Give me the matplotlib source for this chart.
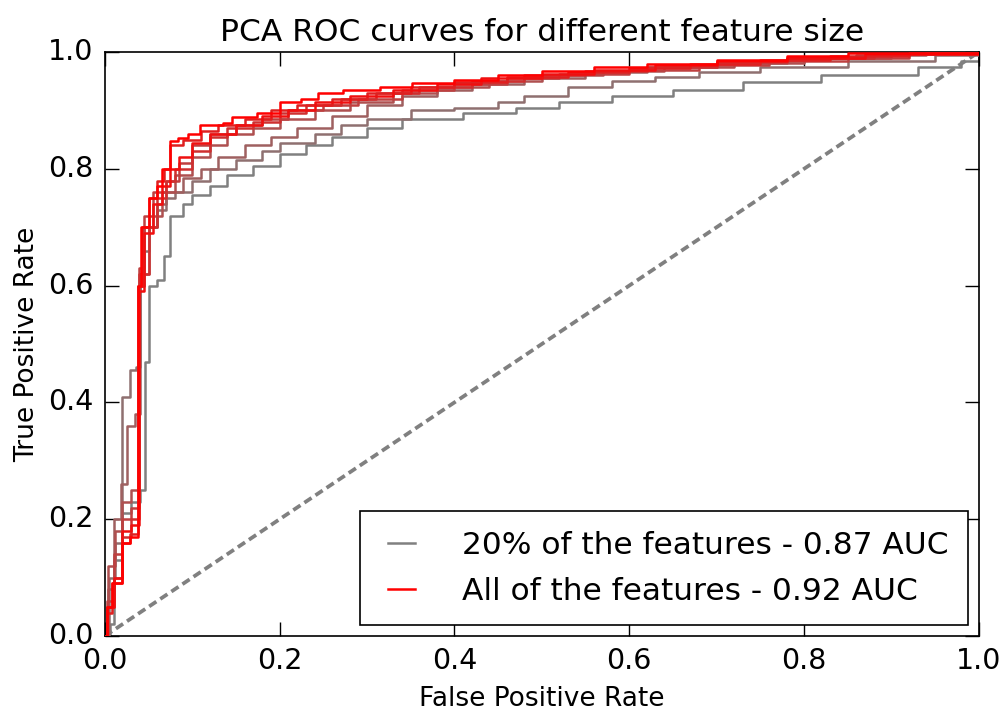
import matplotlib
matplotlib.use("Agg")
import matplotlib.pyplot as plt
import numpy as np

# ROC corner points (fpr, tpr) per PCA feature fraction, from fewest to all features
roc_20 = [(0, 0), (0.006, 0.02), (0.011, 0.13), (0.02, 0.21), (0.03, 0.23), (0.04, 0.25),
          (0.046, 0.47), (0.05, 0.60), (0.06, 0.61), (0.068, 0.65), (0.074, 0.72), (0.09, 0.74),
          (0.1, 0.755), (0.12, 0.77), (0.14, 0.79), (0.17, 0.805), (0.2, 0.825), (0.23, 0.84),
          (0.26, 0.855), (0.3, 0.87), (0.34, 0.885), (0.41, 0.896), (0.47, 0.905), (0.52, 0.915),
          (0.58, 0.925), (0.65, 0.935), (0.73, 0.948), (0.82, 0.96), (0.93, 0.975), (0.98, 0.985),
          (1.0, 1.0)]
roc_30 = [(0, 0), (0.005, 0.1), (0.012, 0.16), (0.02, 0.41), (0.029, 0.455), (0.036, 0.46),
          (0.04, 0.6), (0.045, 0.66), (0.05, 0.7), (0.06, 0.73), (0.07, 0.75), (0.08, 0.76),
          (0.1, 0.78), (0.12, 0.8), (0.15, 0.815), (0.18, 0.83), (0.2, 0.845), (0.24, 0.86),
          (0.27, 0.875), (0.3, 0.885), (0.35, 0.9), (0.4, 0.905), (0.45, 0.915), (0.48, 0.925),
          (0.53, 0.94), (0.58, 0.95), (0.63, 0.957), (0.68, 0.965), (0.75, 0.975), (0.85, 0.985),
          (0.95, 0.995), (1.0, 1.0)]
roc_40 = [(0, 0), (0.004, 0.08), (0.01, 0.2), (0.018, 0.26), (0.025, 0.36), (0.035, 0.38),
          (0.04, 0.62), (0.05, 0.7), (0.06, 0.74), (0.07, 0.76), (0.09, 0.785), (0.11, 0.8),
          (0.13, 0.82), (0.16, 0.84), (0.19, 0.855), (0.22, 0.87), (0.26, 0.89), (0.3, 0.91),
          (0.34, 0.925), (0.38, 0.935), (0.42, 0.945), (0.48, 0.955), (0.55, 0.965), (0.62, 0.975),
          (0.7, 0.982), (0.78, 0.99), (0.86, 0.995), (0.94, 0.998), (1.0, 1.0)]
roc_50 = [(0, 0), (0.004, 0.12), (0.012, 0.18), (0.02, 0.23), (0.03, 0.25), (0.038, 0.6),
          (0.045, 0.7), (0.055, 0.72), (0.065, 0.76), (0.08, 0.79), (0.1, 0.82), (0.12, 0.84),
          (0.14, 0.86), (0.17, 0.87), (0.2, 0.885), (0.24, 0.9), (0.28, 0.915), (0.33, 0.93),
          (0.38, 0.94), (0.44, 0.95), (0.5, 0.96), (0.57, 0.968), (0.64, 0.975), (0.72, 0.982),
          (0.8, 0.99), (0.9, 0.996), (1.0, 1.0)]
roc_60 = [(0, 0), (0.003, 0.06), (0.01, 0.14), (0.02, 0.2), (0.03, 0.22), (0.039, 0.63),
          (0.045, 0.72), (0.055, 0.76), (0.07, 0.78), (0.085, 0.81), (0.1, 0.84), (0.12, 0.86),
          (0.15, 0.875), (0.18, 0.885), (0.21, 0.9), (0.25, 0.91), (0.29, 0.92), (0.34, 0.935),
          (0.4, 0.945), (0.46, 0.955), (0.52, 0.962), (0.6, 0.97), (0.68, 0.978), (0.76, 0.985),
          (0.85, 0.99), (0.92, 0.997), (1.0, 1.0)]
roc_70 = [(0, 0), (0.003, 0.05), (0.01, 0.1), (0.02, 0.17), (0.03, 0.2), (0.039, 0.62),
          (0.05, 0.7), (0.06, 0.75), (0.07, 0.78), (0.08, 0.8), (0.1, 0.83), (0.12, 0.855),
          (0.14, 0.87), (0.17, 0.88), (0.2, 0.895), (0.23, 0.91), (0.27, 0.92), (0.31, 0.93),
          (0.36, 0.94), (0.42, 0.95), (0.48, 0.96), (0.55, 0.967), (0.62, 0.975), (0.7, 0.983),
          (0.78, 0.99), (0.88, 0.996), (1.0, 1.0)]
roc_80 = [(0, 0), (0.002, 0.04), (0.008, 0.09), (0.02, 0.16), (0.029, 0.175), (0.038, 0.6),
          (0.042, 0.7), (0.05, 0.75), (0.06, 0.78), (0.068, 0.8), (0.075, 0.84), (0.09, 0.85),
          (0.11, 0.865), (0.13, 0.875), (0.16, 0.885), (0.19, 0.9), (0.22, 0.91), (0.26, 0.92),
          (0.3, 0.93), (0.35, 0.94), (0.4, 0.948), (0.46, 0.958), (0.53, 0.965), (0.6, 0.972),
          (0.67, 0.98), (0.75, 0.987), (0.83, 0.993), (0.92, 0.998), (1.0, 1.0)]
roc_90 = [(0, 0), (0.003, 0.05), (0.01, 0.1), (0.02, 0.18), (0.03, 0.19), (0.039, 0.59),
          (0.045, 0.69), (0.055, 0.74), (0.065, 0.77), (0.075, 0.8), (0.085, 0.82), (0.1, 0.845),
          (0.12, 0.86), (0.15, 0.875), (0.18, 0.89), (0.21, 0.9), (0.24, 0.915), (0.28, 0.925),
          (0.33, 0.935), (0.38, 0.945), (0.43, 0.955), (0.5, 0.962), (0.56, 0.97), (0.63, 0.977),
          (0.7, 0.984), (0.78, 0.99), (0.87, 0.996), (1.0, 1.0)]
roc_100 = [(0, 0), (0.002, 0.05), (0.008, 0.09), (0.02, 0.16), (0.029, 0.17), (0.038, 0.6),
           (0.041, 0.7), (0.05, 0.75), (0.06, 0.77), (0.065, 0.8), (0.074, 0.848), (0.084, 0.852),
           (0.095, 0.86), (0.109, 0.875), (0.135, 0.878), (0.146, 0.889), (0.174, 0.895),
           (0.2, 0.914), (0.225, 0.92), (0.244, 0.93), (0.272, 0.935), (0.315, 0.94),
           (0.352, 0.947), (0.4, 0.952), (0.45, 0.96), (0.5, 0.967), (0.56, 0.975), (0.62, 0.98),
           (0.7, 0.987), (0.78, 0.993), (0.85, 0.998), (1.0, 1.0)]

curves = [roc_20, roc_30, roc_40, roc_50, roc_60, roc_70, roc_80, roc_90, roc_100]
labels = ["20% of the features - 0.87 AUC", None, None, None, None, None, None, None,
          "All of the features - 0.92 AUC"]

plt.style.use("classic")
fig = plt.figure(figsize=(10.08, 7.16), dpi=100, facecolor="white")
ax = fig.add_axes([0.104, 0.1117, 0.867, 0.8156])
ax.set_facecolor("white")

n = len(curves)
grey = np.array([0.5, 0.5, 0.5])
red = np.array([1.0, 0.0, 0.0])
for i, (pts, lab) in enumerate(zip(curves, labels)):
    t = i / (n - 1)
    col = tuple(grey * (1 - t) + red * t)
    fpr = [p[0] for p in pts]
    tpr = [p[1] for p in pts]
    ax.plot(fpr, tpr, drawstyle="steps-post", color=col, lw=1.8, label=lab, zorder=2 + i)

ax.plot([0, 1], [0, 1], linestyle="--", color="#808080", lw=2.7, dashes=(6.2, 3.4), zorder=1)

ax.set_xlim(0, 1)
ax.set_ylim(0, 1)
ax.set_xticks(np.arange(0, 1.01, 0.2))
ax.set_yticks(np.arange(0, 1.01, 0.2))
ax.tick_params(labelsize=20.5, length=10, width=1, direction="in", pad=8)
ax.set_xlabel("False Positive Rate", fontsize=19, labelpad=8)
ax.set_ylabel("True Positive Rate", fontsize=19, labelpad=6)
ax.set_title("PCA ROC curves for different feature size", fontsize=22.5, pad=8)
for s in ax.spines.values():
    s.set_linewidth(1.2)

leg = ax.legend(loc="lower right", fontsize=22.5, handlelength=1.45, borderpad=0.62,
                labelspacing=0.55, handletextpad=1.2, fancybox=False, borderaxespad=0.35)
leg.get_frame().set_edgecolor("black")
leg.get_frame().set_linewidth(1.2)

fig.savefig("out.png", dpi=100, facecolor="white")
